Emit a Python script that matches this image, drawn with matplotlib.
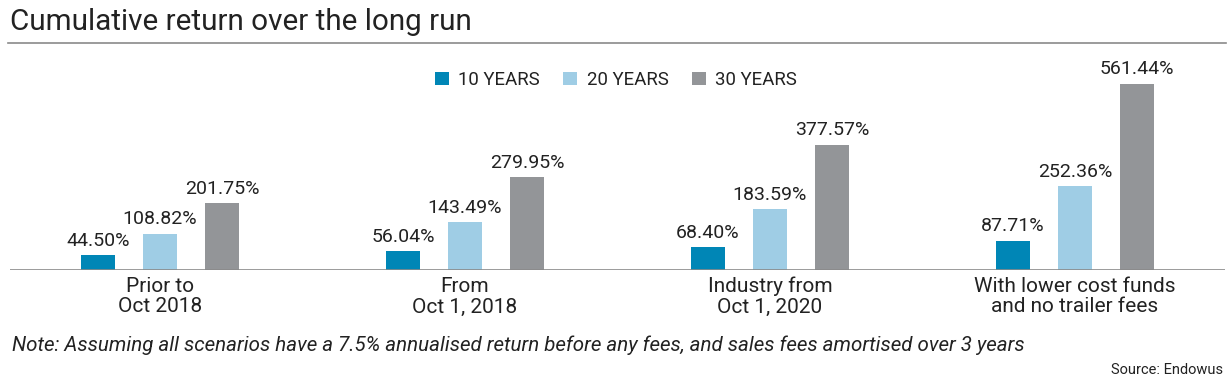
import matplotlib
matplotlib.use("Agg")
import matplotlib.pyplot as plt
from matplotlib.patches import Patch
from matplotlib.lines import Line2D
from matplotlib import font_manager as fm

categories = ["Prior to\nOct 2018", "From\nOct 1, 2018", "Industry from\nOct 1, 2020", "With lower cost funds\nand no trailer fees"]
series_names = ["10 YEARS", "20 YEARS", "30 YEARS"]
y10 = [44.50, 56.04, 68.40, 87.71]
y20 = [108.82, 143.49, 183.59, 252.36]
y30 = [201.75, 279.95, 377.57, 561.44]
colors = ["#0086b6", "#9fcde5", "#939598"]

names = {f.name for f in fm.fontManager.ttflist}
base = "Roboto" if "Roboto" in names else "DejaVu Sans"
plt.rcParams['font.family'] = [base, 'DejaVu Sans']

W, H = 1231, 385
fig = plt.figure(figsize=(W/100, H/100), dpi=100)

def fx(px): return px / W
def fy(py): return 1 - py / H

# Title and rule
fig.text(fx(10), fy(22), "Cumulative return over the long run", fontsize=21.3, color="#222222",
         fontweight="normal", va="center", ha="left")
fig.add_artist(Line2D([fx(8), fx(1226)], [fy(43), fy(43)], color="#8a8a8a", lw=1.2))

# Axes
ax_top, ax_bot = 60, 270
ax = fig.add_axes([fx(10), fy(ax_bot), fx(1225) - fx(10), (ax_bot - ax_top) / H])
scale = 186 / 561.44  # px per unit
ax.set_ylim(0, (ax_bot - ax_top) / scale)
ax.set_xlim(-0.492, 3.492)
ax.axis("off")

off = 62 / 305
bw = 34 / 305
for k, (vals, c) in enumerate(zip([y10, y20, y30], colors)):
    xs = [i + (k - 1) * off for i in range(len(categories))]
    ax.bar(xs, vals, width=bw, color=c, zorder=2)
    for x, v in zip(xs, vals):
        ax.annotate(f"{v:.2f}%", (x, v), xytext=(0, 4), textcoords="offset points",
                    ha="center", va="bottom", fontsize=14, color="#222222")

ax.axhline(0, color="#8a8a8a", lw=1.2, zorder=3)

for i, cat in enumerate(categories):
    ax.annotate(cat, (i, 0), xytext=(0, -5), textcoords="offset points",
                ha="center", va="top", fontsize=15, color="#222222", linespacing=1.1,
                annotation_clip=False)

# Legend
handles = [Patch(facecolor=c, edgecolor="none") for c in colors]
fig.legend(handles, series_names, loc="center", bbox_to_anchor=(fx(616), fy(80)), ncol=3,
           frameon=False, fontsize=13.4, handlelength=0.75, handleheight=0.75, handletextpad=0.5,
           columnspacing=1.25, labelcolor="#222222")

# Note and source
fig.text(fx(12), fy(345), "Note: Assuming all scenarios have a 7.5% annualised return before any fees, and sales fees amortised over 3 years",
         fontsize=14.8, style="italic", color="#222222", va="center", ha="left")
fig.text(fx(1223), fy(370), "Source: Endowus", fontsize=10.5,
         color="#222222", va="center", ha="right")

fig.savefig("out.png", dpi=100)
